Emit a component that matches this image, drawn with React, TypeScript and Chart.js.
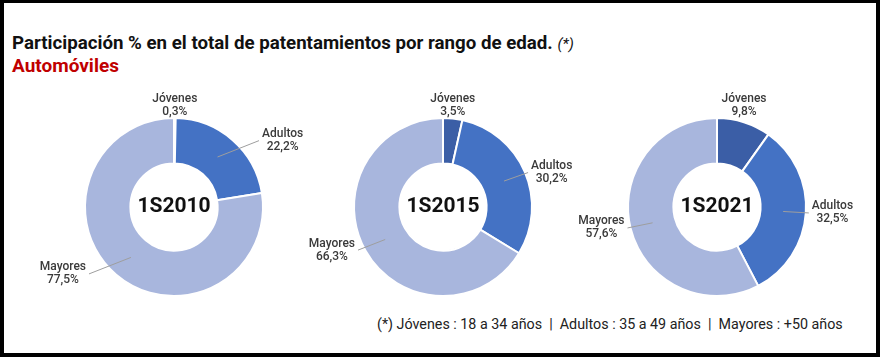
import React, { useEffect, useRef } from "react";
import { Chart, registerables } from "chart.js";

Chart.register(...registerables);

const categories = ["Jóvenes", "Adultos", "Mayores"];
const periods = ["1S2010", "1S2015", "1S2021"];
const values2010 = [0.3, 22.2, 77.5];
const values2015 = [3.5, 30.2, 66.3];
const values2021 = [9.8, 32.5, 57.6];
const seriesValues = [values2010, values2015, values2021];
const sliceColors = ["#3b5ea6", "#4472c4", "#a8b6dd"];

const titleText = "Participación % en el total de patentamientos por rango de edad.";
const subtitleText = "Automóviles";
const footnoteText = "(*) Jóvenes : 18 a 34 años  |  Adultos : 35 a 49 años  |  Mayores : +50 años";

const chartCenters = [
  { x: 174, y: 207 },
  { x: 443, y: 207 },
  { x: 717, y: 207 },
];
const CW = 300;
const CH = 250;

const fmt = (v: number) => v.toFixed(1).replace(".", ",") + "%";

const labelPlugin = {
  id: "donutLabels",
  afterDraw(chart: any) {
    const ctx = chart.ctx as CanvasRenderingContext2D;
    const meta = chart.getDatasetMeta(0);
    const labels = chart.data.labels as string[];
    const data = chart.data.datasets[0].data as number[];
    const center = (chart.options.plugins as any).donutLabels?.centerText ?? "";
    ctx.save();
    meta.data.forEach((arc: any, i: number) => {
      const p = arc.getProps(["x", "y", "startAngle", "endAngle", "outerRadius", "innerRadius"], true);
      const a = (p.startAngle + p.endAngle) / 2;
      const dx = Math.cos(a);
      const dy = Math.sin(a);
      const R = p.outerRadius;
      const rm = (p.outerRadius + p.innerRadius) / 2;
      const name = labels[i];
      const val = fmt(data[i]);
      ctx.font = "500 12px Roboto";
      ctx.fillStyle = "#3a3a3a";
      ctx.textBaseline = "middle";
      ctx.textAlign = "center";
      if (dy < -Math.cos((25 * Math.PI) / 180)) {
        const x = p.x + R * dx;
        ctx.fillText(name, x, p.y - R - 19);
        ctx.fillText(val, x, p.y - R - 6);
      } else {
        const side = dx >= 0 ? 1 : -1;
        const boxCy = p.y + (R - 1) * dy;
        const off = boxCy - p.y;
        const halfw = Math.sqrt(Math.max(0, R * R - off * off));
        const edge = p.x + side * Math.max(R - 1, halfw + 6);
        ctx.strokeStyle = "#9e9e9e";
        ctx.lineWidth = 1;
        ctx.beginPath();
        ctx.moveTo(p.x + rm * dx, p.y + rm * dy);
        ctx.lineTo(edge - side * 3, boxCy);
        ctx.stroke();
        const w = Math.max(ctx.measureText(name).width, ctx.measureText(val).width);
        const tx = edge + (side * w) / 2;
        ctx.fillText(name, tx, boxCy - 6.5);
        ctx.fillText(val, tx, boxCy + 6.5);
      }
    });
    const first = meta.data[0];
    if (first) {
      ctx.font = "bold 21px Roboto";
      ctx.fillStyle = "#111111";
      ctx.textAlign = "center";
      ctx.textBaseline = "middle";
      ctx.fillText(center, first.x, first.y);
    }
    ctx.restore();
  },
};

function Donut({ index }: { index: number }) {
  const ref = useRef<HTMLCanvasElement>(null);
  useEffect(() => {
    if (!ref.current) return;
    const chart = new Chart(ref.current, {
      type: "doughnut",
      data: {
        labels: categories,
        datasets: [
          {
            data: seriesValues[index],
            backgroundColor: sliceColors,
            borderColor: "#ffffff",
            borderWidth: 2,
          },
        ],
      },
      options: {
        responsive: false,
        animation: false,
        events: [],
        cutout: "49%",
        layout: { padding: { left: (CW - 180) / 2, right: (CW - 180) / 2, top: (CH - 180) / 2, bottom: (CH - 180) / 2 } },
        plugins: {
          legend: { display: false },
          tooltip: { enabled: false },
          donutLabels: { centerText: periods[index] },
        } as any,
      },
      plugins: [labelPlugin],
    });
    return () => chart.destroy();
  }, [index]);
  const c = chartCenters[index];
  return (
    <canvas
      ref={ref}
      width={CW}
      height={CH}
      style={{ position: "absolute", left: c.x - CW / 2, top: c.y - CH / 2, width: CW, height: CH }}
    />
  );
}

export default function App() {
  return (
    <div
      style={{
        position: "absolute",
        left: 0,
        top: 0,
        width: 880,
        height: 357,
        boxSizing: "border-box",
        borderStyle: "solid",
        borderColor: "#000",
        borderWidth: "3px 4px 4px 4px",
        background: "#fff",
        fontFamily: "Roboto, sans-serif",
        overflow: "hidden",
      }}
    >
      <div
        style={{
          position: "absolute",
          left: 8,
          top: 29,
          fontSize: 18.7,
          fontWeight: 700,
          color: "#111",
          lineHeight: "22px",
          whiteSpace: "nowrap",
        }}
      >
        {titleText} <span style={{ fontStyle: "italic", fontWeight: 400, fontSize: 15 }}>(*)</span>
      </div>
      <div
        style={{
          position: "absolute",
          left: 8,
          top: 52,
          fontSize: 19,
          fontWeight: 700,
          color: "#c00000",
          lineHeight: "22px",
          whiteSpace: "nowrap",
        }}
      >
        {subtitleText}
      </div>
      <div
        style={{
          position: "absolute",
          left: 373,
          top: 312,
          fontSize: 14.3,
          color: "#222",
          lineHeight: "18px",
          whiteSpace: "pre",
        }}
      >
        {footnoteText}
      </div>
      <div style={{ position: "absolute", left: -4, top: -3, width: 880, height: 357 }}>
        <Donut index={0} />
        <Donut index={1} />
        <Donut index={2} />
      </div>
    </div>
  );
}
